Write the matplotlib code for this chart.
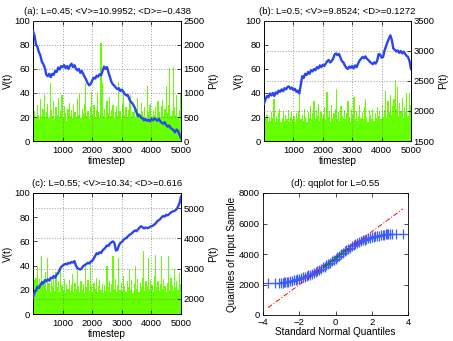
import matplotlib
matplotlib.use("Agg")
import matplotlib.pyplot as plt
import numpy as np

plt.rcParams['font.family'] = ['Liberation Sans', 'DejaVu Sans']
FS = 6.8
plt.rcParams['font.size'] = FS

# ---------------- data ----------------
# V(t) sampled every 40 timesteps (t = 20, 60, ..., 4980)
v_a = [43, 25, 20, 30, 22, 18, 35, 21, 27, 38,
       20, 24, 31, 19, 48, 26, 21, 33, 18, 28,
       22, 36, 20, 25, 38, 19, 29, 23, 17, 27,
       32, 21, 26, 19, 30, 24, 20, 35, 22, 39,
       19, 27, 23, 31, 48, 21, 25, 18, 28, 41,
       22, 30, 20, 26, 40, 24, 19, 82, 48, 21,
       27, 19, 33, 23, 37, 21, 26, 30, 19, 24,
       29, 21, 49, 25, 18, 31, 41, 22, 28, 20,
       26, 33, 38, 21, 24, 30, 19, 27, 36, 23,
       20, 32, 25, 21, 28, 18, 46, 24, 30, 31,
       21, 26, 22, 28, 19, 33, 24, 20, 29, 34,
       21, 27, 46, 23, 30, 61, 21, 25, 62, 28,
       22, 38, 20, 26, 40]
v_b = [25, 19, 22, 16, 20, 17, 24, 19, 35, 16,
       21, 18, 23, 27, 16, 19, 25, 17, 22, 18,
       26, 16, 20, 24, 18, 21, 16, 23, 19, 25,
       38, 18, 22, 17, 27, 20, 16, 24, 19, 29,
       18, 23, 33, 18, 26, 21, 31, 17, 24, 19,
       22, 28, 18, 41, 20, 25, 16, 30, 19, 23,
       27, 43, 18, 24, 17, 29, 21, 19, 26, 18,
       23, 33, 20, 16, 27, 22, 37, 18, 25, 17,
       21, 30, 19, 24, 18, 28, 35, 20, 16, 26,
       22, 18, 27, 17, 23, 19, 28, 21, 25, 18,
       30, 20, 26, 42, 19, 33, 24, 38, 22, 29,
       35, 51, 27, 45, 21, 32, 25, 36, 19, 28,
       24, 40, 21, 40, 30]
v_c = [33, 28, 30, 39, 25, 29, 22, 48, 27, 24,
       35, 20, 46, 26, 18, 28, 23, 31, 19, 35,
       22, 27, 18, 38, 24, 20, 29, 17, 25, 21,
       28, 19, 24, 33, 18, 26, 21, 36, 23, 18,
       27, 20, 25, 17, 41, 22, 28, 19, 45, 24,
       18, 26, 21, 30, 18, 23, 28, 20, 25, 17,
       24, 19, 40, 22, 27, 18, 25, 48, 21, 29,
       18, 24, 46, 20, 26, 19, 31, 23, 18, 27,
       22, 37, 20, 28, 17, 25, 40, 21, 29, 18,
       26, 22, 30, 52, 19, 27, 23, 46, 20, 28,
       24, 18, 31, 49, 22, 27, 19, 25, 48, 21,
       29, 23, 18, 26, 48, 20, 30, 24, 19, 37,
       22, 27, 20, 34, 25]
t_v = np.arange(20, 5000, 40)

# P(t) sampled every 50 timesteps (t = 0 ... 5000)
p_a = [2290, 2200, 2010, 1960, 1850, 1780, 1650, 1600, 1520, 1380,
       1350, 1400, 1330, 1400, 1380, 1460, 1440, 1530, 1490, 1560,
       1540, 1580, 1520, 1560, 1500, 1570, 1610, 1540, 1580, 1510,
       1470, 1500, 1420, 1460, 1390, 1330, 1270, 1200, 1160, 1190,
       1260, 1320, 1300, 1360, 1340, 1390, 1370, 1460, 1550, 1500,
       1540, 1430, 1330, 1230, 1180, 1150, 1110, 1080, 1100, 1040,
       1070, 1030, 980, 950, 960, 880, 820, 790, 740, 680,
       590, 520, 540, 490, 470, 430, 460, 420, 440, 410,
       460, 430, 470, 450, 420, 460, 410, 380, 360, 390,
       330, 300, 320, 270, 250, 220, 180, 240, 210, 130,
       60]
p_b = [2120, 2190, 2250, 2230, 2290, 2260, 2300, 2250, 2310, 2290,
       2340, 2320, 2360, 2330, 2380, 2360, 2400, 2410, 2370, 2390,
       2350, 2370, 2320, 2340, 2290, 2430, 2580, 2550, 2620, 2600,
       2650, 2620, 2680, 2660, 2700, 2680, 2730, 2710, 2760, 2730,
       2770, 2750, 2790, 2830, 2850, 2810, 2830, 2870, 2940, 2960,
       2930, 2950, 2890, 2830, 2810, 2760, 2720, 2700, 2740, 2720,
       2750, 2710, 2760, 2730, 2790, 2840, 2870, 2900, 2880, 2910,
       2870, 2850, 2820, 2800, 2780, 2810, 2790, 2840, 2950, 2940,
       2890, 2900, 3010, 3080, 3150, 3210, 3260, 3180, 3040, 3020,
       2990, 3010, 2970, 3000, 2960, 2990, 2950, 2920, 2900, 2830,
       2700]
p_c = [2050, 2200, 2280, 2400, 2360, 2450, 2550, 2500, 2620, 2580,
       2650, 2600, 2700, 2680, 2760, 2700, 2800, 2850, 2960, 3050,
       3100, 3130, 3160, 3140, 3190, 3170, 3220, 3200, 3250, 3100,
       3020, 2990, 2970, 3010, 3090, 3120, 3150, 3190, 3170, 3230,
       3250, 3330, 3420, 3510, 3480, 3540, 3520, 3600, 3650, 3700,
       3770, 3750, 3830, 3870, 3900, 3850, 3600, 3620, 3760, 3850,
       3880, 3940, 3990, 4010, 4060, 4110, 4140, 4180, 4230, 4260,
       4240, 4300, 4360, 4400, 4370, 4330, 4360, 4340, 4350, 4380,
       4400, 4420, 4460, 4500, 4570, 4600, 4640, 4700, 4740, 4720,
       4780, 4760, 4800, 4850, 4880, 4900, 4920, 4960, 5050, 5170,
       5380]
t_p = np.arange(0, 5001, 50)

titles = ["(a): L=0.45; <V>=10.9952; <D>=\u22120.438",
          "(b): L=0.5; <V>=9.8524; <D>=0.1272",
          "(c): L=0.55; <V>=10.34; <D>=0.616",
          "(d): qqplot for L=0.55"]
p_limits = [(0, 2500), (1500, 3500), (1500, 5500)]
p_ticks = [[0, 500, 1000, 1500, 2000, 2500],
           [1500, 2000, 2500, 3000, 3500],
           [2000, 3000, 4000, 5000]]
x_ticks = [1000, 2000, 3000, 4000, 5000]
v_ticks = [0, 20, 40, 60, 80, 100]

# qqplot: theoretical quantiles and sample quantiles
qq_x = [-3.72, -3.34, -3.14, -3.01, -2.91, -2.83, -2.76, -2.70,
        -2.6, -2.5, -2.4, -2.3, -2.2, -2.1, -2.0, -1.9, -1.8, -1.7,
        -1.6, -1.5, -1.4, -1.3, -1.2, -1.1, -1.0, -0.9, -0.8, -0.7,
        -0.6, -0.5, -0.4, -0.3, -0.2, -0.1, 0.0, 0.1, 0.2, 0.3,
        0.4, 0.5, 0.6, 0.7, 0.8, 0.9, 1.0, 1.1, 1.2, 1.3,
        1.4, 1.5, 1.6, 1.7, 1.8, 1.9, 2.0, 2.1, 2.2, 2.3,
        2.4, 2.5, 2.6, 2.70, 2.76, 2.83, 2.91, 3.01, 3.14, 3.34, 3.72]
qq_y = [2100, 2100, 2110, 2120, 2130, 2140, 2150, 2160,
        2190, 2210, 2240, 2280, 2320, 2350, 2380, 2440, 2480, 2520,
        2560, 2600, 2640, 2700, 2770, 2830, 2880, 2950, 3030, 3120,
        3180, 3250, 3330, 3420, 3510, 3600, 3700, 3800, 3900, 3990,
        4080, 4170, 4250, 4330, 4420, 4510, 4600, 4680, 4750, 4810,
        4860, 4900, 4940, 4980, 5020, 5060, 5090, 5120, 5150, 5180,
        5210, 5230, 5250, 5270, 5290, 5300, 5300, 5310, 5310, 5320, 5330]

GREEN = '#66ff00'
BLUE = '#2a46f2'
GRID = '#7a7a7a'

fig = plt.figure(figsize=(4.53, 3.41), dpi=100)
W, H = 453.0, 341.0
def pos(l, t, r, b):
    return [l / W, 1 - b / H, (r - l) / W, (b - t) / H]

rects = [pos(33, 21, 181, 141), pos(264, 21, 411, 141), pos(33, 193, 181, 314)]
vs = [v_a, v_b, v_c]
ps = [p_a, p_b, p_c]
grid_style = dict(color=GRID, linestyle=(0, (1, 2.2)), linewidth=0.6)

for k in range(3):
    ax = fig.add_axes(rects[k])
    ax.bar(t_v, vs[k], width=40, color=GREEN, linewidth=0, zorder=1,
           antialiased=False)
    ax.set_xlim(0, 5000)
    ax.set_ylim(0, 100)
    ax.set_xticks(x_ticks)
    ax.set_yticks(v_ticks)
    ax.set_ylabel('V(t)', labelpad=1, fontsize=7.2)
    ax.set_xlabel('timestep', labelpad=1, fontsize=7.2)
    ax.set_title(titles[k], fontsize=FS, pad=5)
    ax.tick_params(direction='in', length=3, width=0.5, pad=2, top=True)
    ax.tick_params(axis='x', pad=3.5)
    ax.set_axisbelow(False)
    ax.grid(True, axis='x', **grid_style)
    ax2 = ax.twinx()
    ax2.plot(t_p, ps[k], color=BLUE, lw=1.7, zorder=3)
    ax2.set_ylim(*p_limits[k])
    ax2.set_yticks(p_ticks[k])
    ax2.set_xlim(0, 5000)
    ax2.set_ylabel('P(t)', labelpad=2, fontsize=7.2)
    ax2.tick_params(direction='in', length=3, width=0.5, pad=2)
    ax2.set_axisbelow(False)
    ax2.grid(True, axis='y', **grid_style)
    for a in (ax, ax2):
        for s in a.spines.values():
            s.set_linewidth(0.6)

# qqplot panel
axd = fig.add_axes(pos(263, 193, 408, 315))
qx = np.array(qq_x)
qy = np.array(qq_y)
axd.plot(qx, qy, linestyle='none', marker='+', markersize=7.5, mew=0.9,
         color='#3d5cff', zorder=2)
q1x, q3x = -0.674, 0.674
q1y, q3y = np.interp(q1x, qx, qy), np.interp(q3x, qx, qy)
slope = (q3y - q1y) / (q3x - q1x)
ends = np.array([qx.min(), qx.max()])
axd.plot(ends, q1y + slope * (ends - q1x), color='red', lw=0.7,
         linestyle=(0, (5, 2, 1, 2)), zorder=3)
mid = np.array([q1x, q3x])
axd.plot(mid, q1y + slope * (mid - q1x), color='#008a00', lw=0.8, zorder=4)
axd.set_xlim(-4, 4)
axd.set_ylim(0, 8000)
axd.set_xticks([-4, -2, 0, 2, 4])
axd.set_yticks([0, 2000, 4000, 6000, 8000])
axd.set_title(titles[3], fontsize=FS, pad=5)
axd.set_xlabel('Standard Normal Quantiles', labelpad=0, fontsize=7.2)
axd.set_ylabel('Quantiles of Input Sample', labelpad=1, fontsize=7.2)
axd.tick_params(direction='in', length=3, width=0.5, pad=2.5, top=True, right=True)
for s in axd.spines.values():
    s.set_linewidth(0.6)

fig.savefig('out.png', dpi=100)
